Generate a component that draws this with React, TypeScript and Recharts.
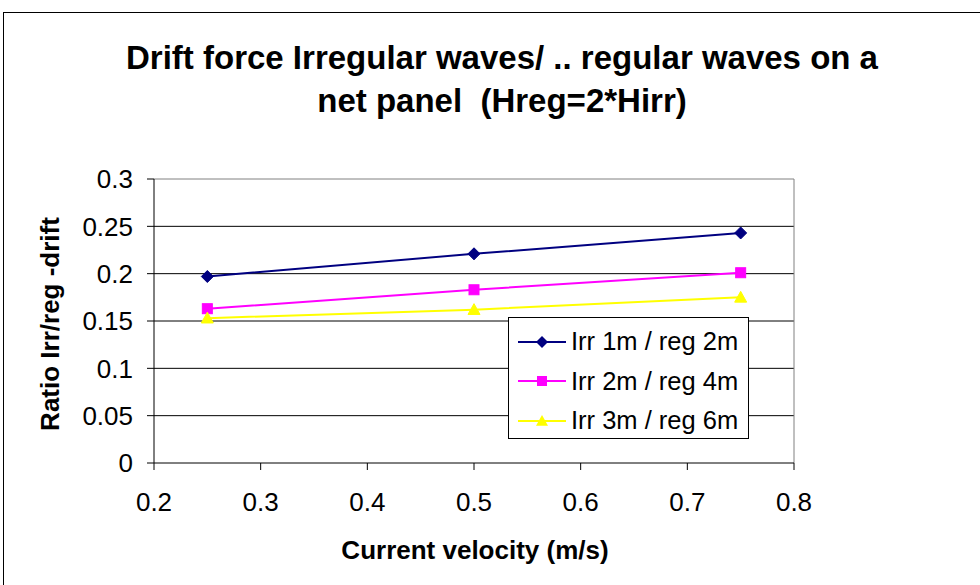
import React from 'react';
import { LineChart, Line, XAxis, YAxis, CartesianGrid, ReferenceLine } from 'recharts';

const velocities = [0.25, 0.5, 0.75];
const irr1reg2 = [0.197, 0.221, 0.243];
const irr2reg4 = [0.163, 0.183, 0.201];
const irr3reg6 = [0.153, 0.162, 0.175];
const xTicks = [0.2, 0.3, 0.4, 0.5, 0.6, 0.7, 0.8];
const yTicks = [0, 0.05, 0.1, 0.15, 0.2, 0.25, 0.3];
const seriesNames = ['Irr 1m / reg 2m', 'Irr 2m / reg 4m', 'Irr 3m / reg 6m'];

const data = velocities.map((v, i) => ({
  v,
  s1: irr1reg2[i],
  s2: irr2reg4[i],
  s3: irr3reg6[i],
}));

const FONT = '"Liberation Sans", Arial, sans-serif';

const Diamond = (props: any) => {
  const { cx, cy } = props;
  if (cx == null || cy == null) return null;
  const r = 6;
  return <polygon points={`${cx},${cy - r} ${cx + r},${cy} ${cx},${cy + r} ${cx - r},${cy}`} fill="#000080" stroke="#000080" />;
};
const Square = (props: any) => {
  const { cx, cy } = props;
  if (cx == null || cy == null) return null;
  const r = 5;
  return <rect x={cx - r} y={cy - r} width={2 * r} height={2 * r} fill="#FF00FF" stroke="#FF00FF" />;
};
const Triangle = (props: any) => {
  const { cx, cy } = props;
  if (cx == null || cy == null) return null;
  const r = 6;
  return <polygon points={`${cx},${cy - r} ${cx + r},${cy + r * 0.8} ${cx - r},${cy + r * 0.8}`} fill="#FFFF00" stroke="#FFFF00" />;
};

const legendItems = [
  { name: seriesNames[0], color: '#000080', shape: 'diamond' },
  { name: seriesNames[1], color: '#FF00FF', shape: 'square' },
  { name: seriesNames[2], color: '#FFFF00', shape: 'triangle' },
];

const LegendBox = () => (
  <div style={{ position: 'absolute', left: 508, top: 317, border: '1px solid #000', background: '#fff', width: 241, height: 122, boxSizing: 'border-box', paddingTop: 4 }}>
    {legendItems.map((it) => (
      <div key={it.name} style={{ display: 'flex', alignItems: 'center', height: 39.5, fontFamily: FONT, fontSize: 25.5, color: '#000', whiteSpace: 'nowrap' }}>
        <svg width={54} height={20} style={{ marginLeft: 8, flex: 'none' }}>
          <line x1={1} y1={10} x2={49} y2={10} stroke={it.color} strokeWidth={2} />
          {it.shape === 'diamond' && <polygon points="25,4 31,10 25,16 19,10" fill={it.color} />}
          {it.shape === 'square' && <rect x={20} y={5} width={10} height={10} fill={it.color} />}
          {it.shape === 'triangle' && <polygon points="25,4 31,14.8 19,14.8" fill={it.color} />}
        </svg>
        <span>{it.name}</span>
      </div>
    ))}
  </div>
);

export default function App() {
  return (
    <div style={{ position: 'absolute', left: 0, top: 0, width: 980, height: 585, background: '#fff', overflow: 'hidden' }}>
      <div style={{ position: 'absolute', left: 3, top: 12, width: 1000, height: 600, border: '1px solid #000' }} />
      <LineChart
        width={980}
        height={585}
        data={data}
        margin={{ top: 179, right: 186, bottom: 82, left: 94 }}
        style={{ position: 'absolute', left: 0, top: 0 }}
      >
        <CartesianGrid horizontal={true} vertical={false} stroke="#000" strokeWidth={1} horizontalValues={[0.05, 0.1, 0.15, 0.2, 0.25]} />
        <ReferenceLine y={0.3} stroke="#808080" strokeWidth={1} />
        <ReferenceLine x={0.8} stroke="#808080" strokeWidth={1} />
        <XAxis
          dataKey="v"
          type="number"
          domain={[0.2, 0.8]}
          ticks={xTicks}
          height={40}
          stroke="#000"
          tickSize={7}
          tickMargin={23}
          tick={{ fill: '#000', fontSize: 26, fontFamily: FONT }}
          tickFormatter={(v: number) => String(v)}
        />
        <YAxis
          type="number"
          domain={[0, 0.3]}
          ticks={yTicks}
          width={60}
          stroke="#000"
          tickSize={7}
          tickMargin={14}
          tick={{ fill: '#000', fontSize: 26, fontFamily: FONT }}
          tickFormatter={(v: number) => String(v)}
        />
        <Line dataKey="s1" name={seriesNames[0]} stroke="#000080" strokeWidth={2} dot={<Diamond />} activeDot={false} isAnimationActive={false} />
        <Line dataKey="s2" name={seriesNames[1]} stroke="#FF00FF" strokeWidth={2} dot={<Square />} activeDot={false} isAnimationActive={false} />
        <Line dataKey="s3" name={seriesNames[2]} stroke="#FFFF00" strokeWidth={2} dot={<Triangle />} activeDot={false} isAnimationActive={false} />
      </LineChart>
      <LegendBox />
      <div style={{ position: 'absolute', left: 502, top: 36, transform: 'translateX(-50%)', fontFamily: FONT, fontWeight: 'bold', fontSize: 33, lineHeight: '43px', textAlign: 'center', whiteSpace: 'pre', color: '#000' }}>
        {'Drift force Irregular waves/ .. regular waves on a\nnet panel  (Hreg=2*Hirr)'}
      </div>
      <div style={{ position: 'absolute', left: 475, top: 550, transform: 'translate(-50%, -50%)', fontFamily: FONT, fontWeight: 'bold', fontSize: 26, whiteSpace: 'nowrap', color: '#000' }}>
        Current velocity (m/s)
      </div>
      <div style={{ position: 'absolute', left: 50, top: 324, transform: 'translate(-50%, -50%) rotate(-90deg)', fontFamily: FONT, fontWeight: 'bold', fontSize: 26, whiteSpace: 'nowrap', color: '#000' }}>
        Ratio Irr/reg -drift
      </div>
    </div>
  );
}
